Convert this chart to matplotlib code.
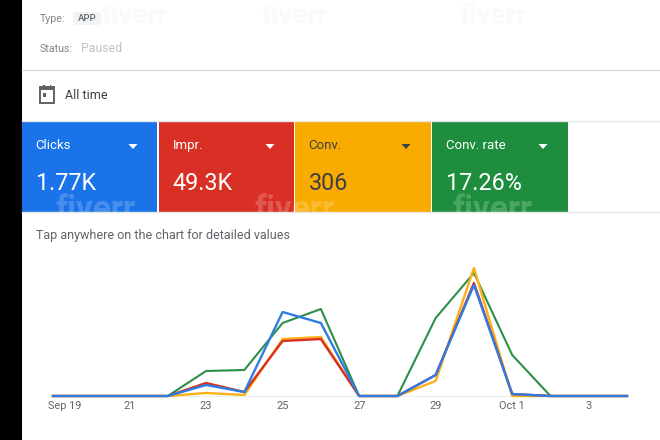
import matplotlib
matplotlib.use('Agg')
import matplotlib.pyplot as plt
from matplotlib.patches import Rectangle, Polygon, FancyBboxPatch
from matplotlib.transforms import ScaledTranslation

plt.rcParams['font.family'] = ['Roboto', 'DejaVu Sans']

days = [19, 20, 21, 22, 23, 24, 25, 26, 27, 28, 29, 30, 31, 32, 33, 34]
green = [0, 0, 0, 0, 25, 26, 73, 87, 0, 0, 78, 123, 41, 0, 0, 0]
yellow = [0, 0, 0, 0, 3, 1, 57, 59, 0, 0, 15, 128, 0, 0, 0, 0]
red = [0, 0, 0, 0, 13, 4, 55, 57, 0, 0, 21, 113, 2, 0, 0, 0]
blue = [0, 0, 0, 0, 11, 4, 84, 73, 0, 0, 21, 111, 2, 0, 0, 0]

tick_days = [19, 21, 23, 25, 27, 29, 31, 33]
tick_labels = ['Sep 19', '21', '23', '25', '27', '29', 'Oct 1', '3']

card_names = ['Clicks', 'Impr.', 'Conv.', 'Conv. rate']
card_values = ['1.77K', '49.3K', '306', '17.26%']
card_colors = ['#1a73e8', '#d93025', '#f9ab00', '#1e8e3e']
card_left = [22, 159, 295, 432]
card_right = [157, 294, 431, 568]
card_text = ['white', 'white', '#3c4043', 'white']

W, H = 660, 440
fig = plt.figure(figsize=(6.6, 4.4), dpi=100, facecolor='white')

# page layer in pixel coordinates
bg = fig.add_axes([0, 0, 1, 1])
bg.set_xlim(0, W)
bg.set_ylim(H, 0)
bg.axis('off')

bg.add_patch(Rectangle((0, 0), 22, H, color='black', lw=0))
bg.plot([22, W], [70.5, 70.5], color='#dcdcdc', lw=1)
bg.plot([22, W], [121, 121], color='#e6e6e6', lw=1)
bg.plot([22, W], [212.5, 212.5], color='#e6e6e6', lw=1)

# top watermark, very faint
for wx in [135, 295, 493]:
    bg.text(wx, 17, 'fiverr', fontsize=20, color='#fafafa', ha='center', va='center',
            fontweight='bold', zorder=0)

# header
bg.text(40, 18.5, 'Type:', fontsize=7.7, color='#80868b', va='center')
bg.add_patch(FancyBboxPatch((73, 12), 28, 13, boxstyle='round,pad=0,rounding_size=3',
                            color='#f1f3f4', lw=0))
bg.text(87, 18.5, 'APP', fontsize=6.8, color='#5f6368', va='center', ha='center',
        fontweight='medium')
bg.text(40, 48.5, 'Status:', fontsize=7.7, color='#80868b', va='center')
bg.text(81, 48.5, 'Paused', fontsize=8.8, color='#bdc1c6', va='center')

# calendar icon
bg.add_patch(Rectangle((39.5, 87.5), 14.5, 15.5, fc='none', ec='#5f6368', lw=1.4))
bg.add_patch(Rectangle((39.5, 87), 14.5, 3, color='#5f6368', lw=0))
bg.add_patch(Rectangle((43, 85.5), 1.6, 3, color='#5f6368', lw=0))
bg.add_patch(Rectangle((49.5, 85.5), 1.6, 3, color='#5f6368', lw=0))
bg.add_patch(Rectangle((42.5, 93.5), 3.2, 3.2, color='#5f6368', lw=0))
bg.text(65, 95.5, 'All time', fontsize=9, color='#3c4043', va='center')

# metric cards
for name, value, color, x0, x1, tc in zip(card_names, card_values, card_colors,
                                          card_left, card_right, card_text):
    bg.add_patch(Rectangle((x0, 121), x1 - x0, 91, color=color, lw=0))
    bg.text(x0 + 13.5, 145.5, name, fontsize=9.5, color=tc, va='center')
    bg.text(x0 + 13.5, 183, value, fontsize=16.8, color=tc, va='center')
    tx = x0 + 111
    bg.add_patch(Polygon([[tx - 4.5, 144], [tx + 4.5, 144], [tx, 149]], color=tc, lw=0))

# watermark on the cards
for wx in [96, 295, 493]:
    bg.text(wx, 210, 'fiverr', fontsize=24, color='white', alpha=0.2, ha='center',
            va='center', fontweight='bold')

bg.text(36, 235, 'Tap anywhere on the chart for detailed values', fontsize=9,
        color='#5f6368', va='center')

# chart
ax = fig.add_axes([53 / W, 1 - 396 / H, (627 - 53) / W, 128 / H])
ax.patch.set_alpha(0)
ax.set_xlim(19, 34)
ax.set_ylim(0, 128)
for s in ['top', 'left', 'right']:
    ax.spines[s].set_visible(False)
ax.spines['bottom'].set_color('#eeeeee')
ax.set_yticks([])
ax.set_xticks(tick_days)
ax.set_xticklabels(tick_labels, fontsize=7.9, color='#5f6368')
ax.tick_params(axis='x', length=0, pad=3.5)
# first label sits to the right of its tick
first = ax.get_xticklabels()[0]
first.set_transform(first.get_transform() + ScaledTranslation(12 / 100, 0, fig.dpi_scale_trans))

ax.plot(days, green, color='#2d8f47', lw=1.5, clip_on=False, zorder=3)
ax.plot(days, yellow, color='#fbb117', lw=1.7, clip_on=False, zorder=3)
ax.plot(days, red, color='#d93025', lw=1.7, clip_on=False, zorder=3)
ax.plot(days, blue, color='#2f7de1', lw=1.7, clip_on=False, zorder=3)

fig.savefig('out.png', dpi=100)
